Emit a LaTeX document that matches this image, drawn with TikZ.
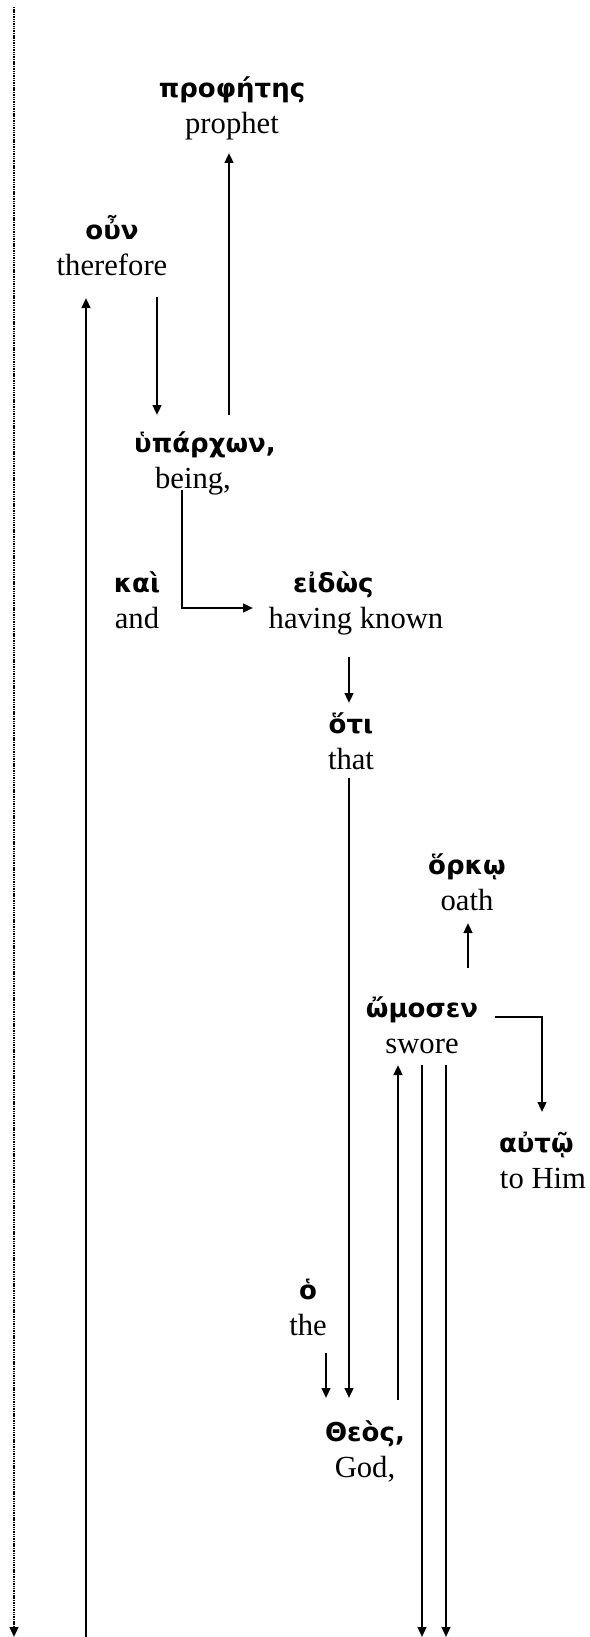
\documentclass[tikz,border=0pt]{standalone}
\usepackage{fontspec}
\setmainfont{Liberation Serif}
\newfontfamily\greekfont{DejaVu Sans}
\usetikzlibrary{arrows.meta,calc}

% Greek word on the upper line
\newcommand{\gk}[1]{{\greekfont\bfseries\fontsize{19.5}{27}\selectfont #1}\strut}

\begin{document}
\begin{tikzpicture}[x=0.75pt,y=-0.75pt]
  % Styles
  \tikzstyle{word}=[align=center,inner sep=0pt,font=\fontsize{23}{27}\selectfont]
  \tikzstyle{link}=[line width=1.7pt,-{Triangle[length=7.5pt,width=6.5pt]}]
  \tikzstyle{dotted link}=[link,dash pattern=on 0.8pt off 0.5pt]

  \useasboundingbox (0,0) rectangle (589,1637);

  % Free ends at top and bottom
  \coordinate (top) at (14,7);
  \coordinate (foot) at (14,1637);
  \coordinate (foot1) at (86,1637);

  % The words
  \node[word] (prophet)   at (232,108)  {\gk{προφήτης}\\prophet\strut};
  \node[word] (oun)       at (112,250)  {\gk{οὖν}\\therefore\strut};
  \node[word] (hyparchon) at (193,463)  {\hspace*{18pt}\gk{ὑπάρχων,}\\being,\strut};
  \node[word] (kai)       at (137,603)  {\gk{καὶ}\\and\strut};
  \node[word] (eidos)     at (356,603)  {\gk{εἰδὼς}\hspace*{34pt}\\having known\strut};
  \node[word] (hoti)      at (351,744)  {\gk{ὅτι}\\that\strut};
  \node[word] (horko)     at (467,885)  {\gk{ὅρκῳ}\\oath\strut};
  \node[word] (omosen)    at (422,1028) {\gk{ὤμοσεν}\\swore\strut};
  \node[word] (auto)      at (543,1163) {\gk{αὐτῷ}\hspace*{10pt}\\to Him\strut};
  \node[word] (ho)        at (308,1310) {\gk{ὁ}\\the\strut};
  \node[word] (theos)     at (365,1452) {\gk{Θεὸς,}\\God,\strut};

  % The links
  \draw[dotted link] (top) -- (foot);
  \draw[link] (foot1) -- ($(oun)+(-26,48)$);
  \draw[link] ($(oun)+(45,47)$) -- ($(hyparchon)+(-36,-48)$);
  \draw[link] ($(hyparchon)+(36,-48)$) -- ($(prophet)+(-3,45)$);
  \draw[link] ($(hyparchon)+(-11,27)$) |- ($(eidos)+(-103,5)$);
  \draw[link] ($(eidos)+(-7,54)$) -- ($(hoti)+(-2,-41)$);
  \draw[link] ($(hoti)+(-2,34)$) -- ($(theos)+(-16,-54)$);
  \draw[link] ($(ho)+(18,43)$) -- ($(theos)+(-39,-54)$);
  \draw[link] ($(theos)+(33,-52)$) -- ($(omosen)+(-24,37)$);
  \foreach \dx in {0,24}
    \draw[link] ($(omosen)+(\dx,37)$) coordinate (s) -- (s |- foot);
  \draw[link] ($(omosen)+(46,-60)$) -- ($(horko)+(1,38)$);
  \draw[link] ($(omosen)+(73,-11)$) -| ($(auto)+(-1,-51)$);
\end{tikzpicture}
\end{document}
